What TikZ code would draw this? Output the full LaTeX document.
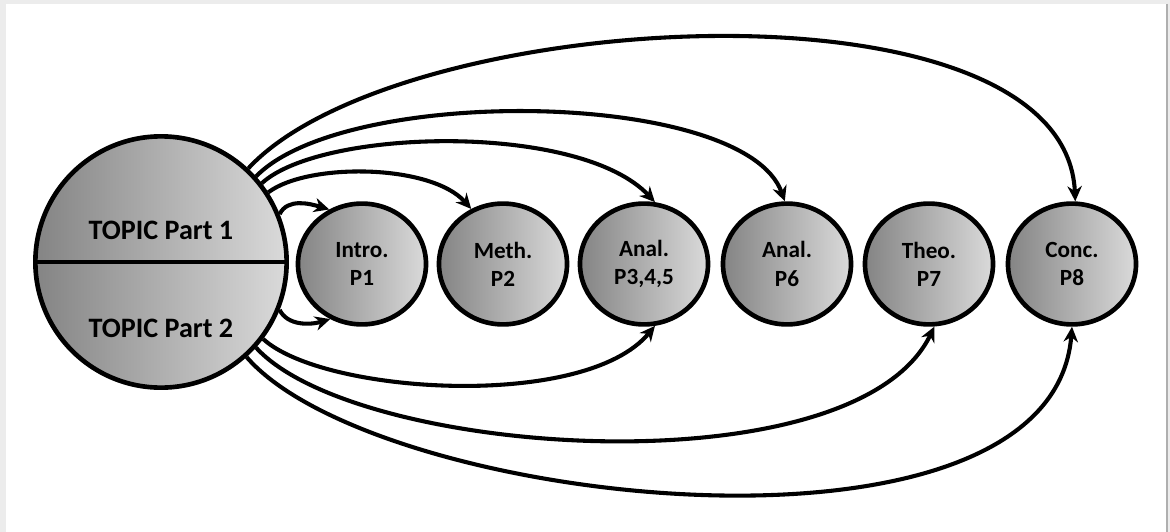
\documentclass[tikz,border=0pt]{standalone}
\usepackage{fontspec}
\setmainfont{Carlito}
\usepackage{tikz}
\usetikzlibrary{arrows.meta, shapes.geometric}

\definecolor{shadedark}{RGB}{132,132,132}
\definecolor{shadelight}{RGB}{218,218,218}
\definecolor{framegray}{RGB}{236,236,236}
\definecolor{edgegray}{RGB}{175,175,175}

\begin{document}
\begin{tikzpicture}[x=0.025cm, y=-0.025cm,
    topicnode/.style={circle, draw, line width=3.3pt, left color=shadedark, right color=shadelight,
        minimum size=6.28cm, inner sep=0pt},
    partnode/.style={ellipse, draw, line width=3.3pt, left color=shadedark, right color=shadelight,
        minimum width=3.2cm, minimum height=3.02cm, inner sep=0pt, align=center,
        font=\fontsize{16.5}{20}\selectfont\bfseries},
    topiclabel/.style={font=\fontsize{20}{24}\selectfont\bfseries},
    arrow/.style={-{Stealth[length=3.8mm, width=3.6mm]}, line width=2.9pt}
]
    % Frame
    \useasboundingbox (0,0) rectangle (1170,532);
    \fill[framegray] (0,0) rectangle (1170,532);
    \fill[white] (6,4) rectangle (1166,532);
    \draw[edgegray, line width=0.8pt] (1167,4) -- (1167,532);

    % Topic circle
    \node[topicnode] (topic) at (161,262) {};
    \draw[line width=3.3pt] (topic.west) -- (topic.east);
    \node[topiclabel] (topicone) at (161,230) {TOPIC Part 1};
    \node[topiclabel] (topictwo) at (161,328) {TOPIC Part 2};

    % Parts
    \node[partnode] (p1) at (362,264) {Intro.\\P1};
    \node[partnode] (p2) at (503,264) {Meth.\\P2};
    \node[partnode] (p345) at (644,264) {Anal.\\P3,4,5};
    \node[partnode] (p6) at (787,264) {Anal.\\P6};
    \node[partnode] (p7) at (929,264) {Theo.\\P7};
    \node[partnode] (p8) at (1072,264) {Conc.\\P8};

    % Arrows from Part 1
    \draw[arrow] (topic.22) .. controls +(8,-16) and +(-20,-6) .. (p1.121);
    \draw[arrow] (topic.33) .. controls +(40,-30) and +(-40,-45) .. (p2.120);
    \draw[arrow] (topic.38) .. controls +(60,-55) and +(-75,-80) .. (p345.80);
    \draw[arrow] (topic.42) .. controls +(90,-92) and +(-40,-112) .. (p6.92);
    \draw[arrow] (topic.47) .. controls +(150,-162) and +(-10,-232) .. (p8.87);

    % Arrows from Part 2
    \draw[arrow] (topic.-22) .. controls +(8,16) and +(-20,6) .. (p1.-120);
    \draw[arrow] (topic.-37) .. controls +(60,55) and +(-70,85) .. (p345.-80);
    \draw[arrow] (topic.-42) .. controls +(100,110) and +(-80,165) .. (p7.-85);
    \draw[arrow] (topic.-48) .. controls +(130,150) and +(-20,255) .. (p8.-90);
\end{tikzpicture}
\end{document}
